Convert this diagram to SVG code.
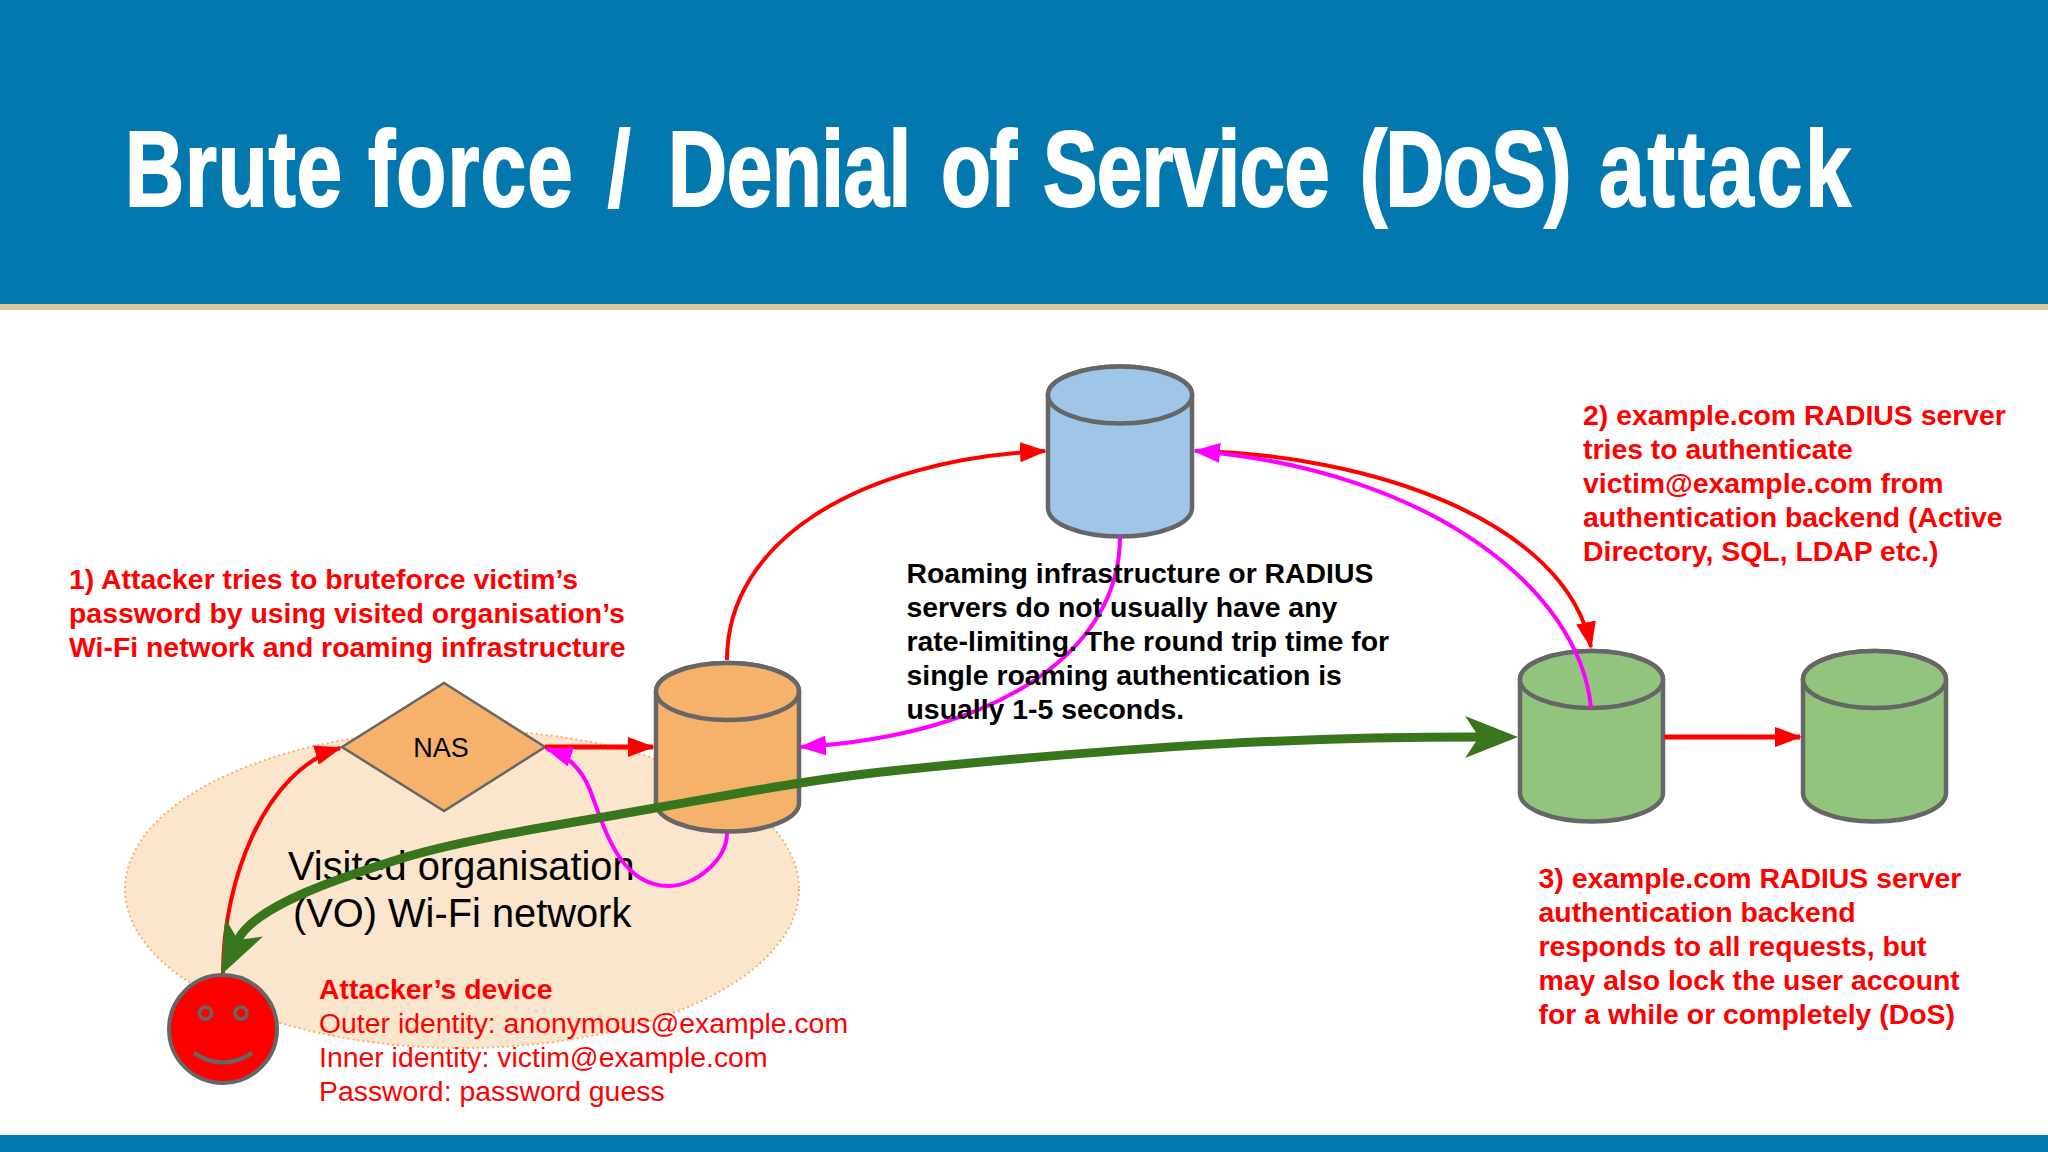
<svg xmlns="http://www.w3.org/2000/svg" width="2048" height="1152" viewBox="0 0 2048 1152">
<style>
text{font-family:"Liberation Sans",Arial,sans-serif}
.t{font-size:107px;font-weight:700;fill:#fff;stroke:#fff;stroke-width:2}
.b{font-size:28.400px;font-weight:700;fill:#f00}
.k{font-size:28.400px;font-weight:700;fill:#000}
.r{font-size:28.400px;fill:#f00}
.vo{font-size:39.800px;fill:#000}
.cyl{stroke:#666;stroke-width:4.500}
.or{fill:#f6b26b}.bl{fill:#9fc5e8}.gr{fill:#93c47d}
.c{fill:none}
.red{stroke:#f00;stroke-width:4}
.mag{stroke:#f0f;stroke-width:4}
</style>
<defs>
<marker id="ar" markerUnits="userSpaceOnUse" markerWidth="30" markerHeight="22" refX="25" refY="10" orient="auto"><path d="M0 0L27 10L0 20z" fill="#f00"/></marker>
<marker id="am" markerUnits="userSpaceOnUse" markerWidth="30" markerHeight="22" refX="25" refY="10" orient="auto"><path d="M0 0L27 10L0 20z" fill="#f0f"/></marker>
<marker id="ag" markerUnits="userSpaceOnUse" markerWidth="56" markerHeight="44" refX="14" refY="21" orient="auto-start-reverse"><path d="M0 0L53 21L0 42L14 21z" fill="#38761d"/></marker>
</defs>
<g id="header">
<rect width="2048" height="304" fill="#0378ae"/>
<rect y="304" width="2048" height="6" fill="#d8c598"/>
<text class="t" transform="translate(125 206) scale(.765 1)"><tspan x="0" letter-spacing="1.100">Brute </tspan><tspan x="317.600" letter-spacing="1.500">force </tspan><tspan x="631">/ </tspan><tspan x="709.800" letter-spacing="-.6">Denial </tspan><tspan x="1066.700" letter-spacing="-1.500">of </tspan><tspan x="1200" letter-spacing="-1">Service </tspan><tspan x="1614" letter-spacing="-2.100">(DoS) </tspan><tspan x="1926.800" letter-spacing="4">attack</tspan></text>
</g>
<rect id="footer" y="1135" width="2048" height="17" fill="#0378ae"/>
<g id="vo-network">
<ellipse cx="462" cy="889" rx="337" ry="159" fill="#fce5cd" stroke="#f6b26b" stroke-width="2" stroke-dasharray="2 3"/>
<text class="vo" x="288" y="880">Visited organisation</text>
<text class="vo" x="293" y="927">(VO) Wi-Fi network</text>
</g>
<g id="nas">
<path d="M342 747L444 683L545 747L444 811z" fill="#f6b26b" stroke="#666" stroke-width="2.500"/>
<text x="441" y="757" font-size="27" text-anchor="middle">NAS</text>
</g>
<g id="vo-server">
<path class="cyl or" d="M656 691.500V803A71.500 28.500 0 0 0 799 803V691.500A71.500 28.500 0 0 0 656 691.500z"/>
<ellipse class="cyl or" cx="727.500" cy="691.500" rx="71.500" ry="28.500"/>
</g>
<g id="roaming-server">
<path class="cyl bl" d="M1048 395V508A72 28.500 0 0 0 1192 508V395A72 28.500 0 0 0 1048 395z"/>
<ellipse class="cyl bl" cx="1120" cy="395" rx="72" ry="28.500"/>
</g>
<g id="radius-server">
<path class="cyl gr" d="M1520 679.500V793A71.500 28.500 0 0 0 1663 793V679.500A71.500 28.500 0 0 0 1520 679.500z"/>
<ellipse class="cyl gr" cx="1591.500" cy="679.500" rx="71.500" ry="28.500"/>
</g>
<g id="auth-backend">
<path class="cyl gr" d="M1803 679.500V793A71.500 28.500 0 0 0 1946 793V679.500A71.500 28.500 0 0 0 1803 679.500z"/>
<ellipse class="cyl gr" cx="1874.500" cy="679.500" rx="71.500" ry="28.500"/>
</g>
<g id="attacker">
<circle cx="223" cy="1029" r="54" fill="#f00" stroke="#666" stroke-width="4"/>
<circle cx="205.500" cy="1013" r="6" fill="none" stroke="#666" stroke-width="3.500"/>
<circle cx="241" cy="1013" r="6" fill="none" stroke="#666" stroke-width="3.500"/>
<path d="M194 1053Q223 1072 252 1053" fill="none" stroke="#666" stroke-width="4"/>
</g>
<g id="connectors" class="c">
<path class="red" marker-end="url(#ar)" d="M223 973C223 880 265 770 340 748"/>
<path class="red" style="stroke-width:5" marker-end="url(#ar)" d="M545 747H653"/>
<path class="red" marker-end="url(#ar)" d="M727 660C727 540 860 460 1045 451"/>
<path class="red" marker-end="url(#ar)" d="M1195 451C1370 455 1565 520 1591 647"/>
<path class="red" style="stroke-width:5" marker-end="url(#ar)" d="M1664 737H1800"/>
<path class="mag" marker-end="url(#am)" d="M1120 537C1120 650 1000 735 801 747"/>
<path class="mag" marker-end="url(#am)" d="M1591 708C1580 590 1430 470 1195 451"/>
<path class="mag" marker-end="url(#am)" d="M727 833C727 860 695 886 669 886C620 886 605 830 590 790C580 765 565 755 547 749"/>
<path stroke="#38761d" stroke-width="9" marker-start="url(#ag)" marker-end="url(#ag)" d="M238 940C255 905 345 876 406 857C470 838 560 825 661 807C730 795 810 779 900 770C1150 745 1300 737 1479 737"/>
</g>
<g id="label-1" class="b">
<text x="69" y="589">1) Attacker tries to bruteforce victim’s</text>
<text x="69" y="623">password by using visited organisation’s</text>
<text x="69" y="657">Wi-Fi network and roaming infrastructure</text>
</g>
<g id="label-2" class="b">
<text x="1583" y="424.500">2) example.com RADIUS server</text>
<text x="1583" y="458.500">tries to authenticate</text>
<text x="1583" y="492.500">victim@example.com from</text>
<text x="1583" y="526.500">authentication backend (Active</text>
<text x="1583" y="560.500">Directory, SQL, LDAP etc.)</text>
</g>
<g id="label-3" class="b">
<text x="1538.500" y="888">3) example.com RADIUS server</text>
<text x="1538.500" y="922">authentication backend</text>
<text x="1538.500" y="956">responds to all requests, but</text>
<text x="1538.500" y="990">may also lock the user account</text>
<text x="1538.500" y="1024">for a while or completely (DoS)</text>
</g>
<g id="label-roaming" class="k">
<text x="906.500" y="582.500">Roaming infrastructure or RADIUS</text>
<text x="906.500" y="616.500">servers do not usually have any</text>
<text x="906.500" y="650.500">rate-limiting. The round trip time for</text>
<text x="906.500" y="684.500">single roaming authentication is</text>
<text x="906.500" y="718.500">usually 1-5 seconds.</text>
</g>
<g id="label-attacker">
<text class="b" x="319" y="999">Attacker’s device</text>
<text class="r" x="319" y="1033">Outer identity: anonymous@example.com</text>
<text class="r" x="319" y="1067">Inner identity: victim@example.com</text>
<text class="r" x="319" y="1101">Password: password guess</text>
</g>
</svg>
